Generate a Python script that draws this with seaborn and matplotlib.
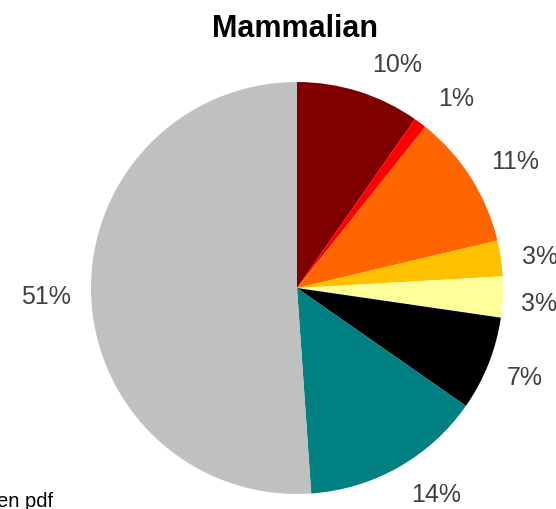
import numpy as np
import seaborn as sns
import matplotlib.pyplot as plt

# slice shares (percent), clockwise from 12 o'clock
categories = ['c1', 'c2', 'c3', 'c4', 'c5', 'c6', 'c7', 'c8']
shares = [9.7, 1.0, 10.6, 2.8, 3.2, 7.4, 14.2, 51.1]
colors = ['#800000', '#FF0000', '#FF6600', '#FFC000', '#FFFF99', '#000000', '#008080', '#C0C0C0']

sns.set_style('white')
plt.rcParams['font.family'] = ['Liberation Sans', 'DejaVu Sans']

W, H = 556, 509
cx, cy, r = 297, 288, 206  # pie centre / radius in pixels (cy from top)

fig = plt.figure(figsize=(W / 100, H / 100), dpi=100)
ax = fig.add_axes([0, 0, 1, 1])

wedges, texts, autotexts = ax.pie(
    shares, colors=colors, startangle=90, counterclock=False, radius=1,
    autopct='%.0f%%', pctdistance=1.2,
    textprops={'color': '#404040', 'fontsize': 18},
    wedgeprops={'linewidth': 0},
)

# excel-style "best fit" label placement: small clockwise nudges (deg)
nudge = [6.7, 3.4, 2.4, 1.0, 1.3, 0.0, -4.5, 0.0]
dist = [1.185, 1.2, 1.22, 1.19, 1.18, 1.19, 1.21, 1.22]
for w, t, dn, d in zip(wedges, autotexts, nudge, dist):
    ang = np.deg2rad((w.theta1 + w.theta2) / 2 - dn)
    t.set_position((d * np.cos(ang), d * np.sin(ang)))

ax.set_xlim(-cx / r, (W - cx) / r)
ax.set_ylim(-(H - cy) / r, cy / r)
ax.set_aspect('auto')
ax.axis('off')

fig.text(295 / W, 1 - 37 / H, 'Mammalian', ha='center', va='baseline',
         fontsize=22, fontweight='bold', color='black')
fig.text(-3 / W, 2 / H, 'en pdf', ha='left', va='baseline', fontsize=14.5, color='black')

fig.savefig('out.png', dpi=100)
